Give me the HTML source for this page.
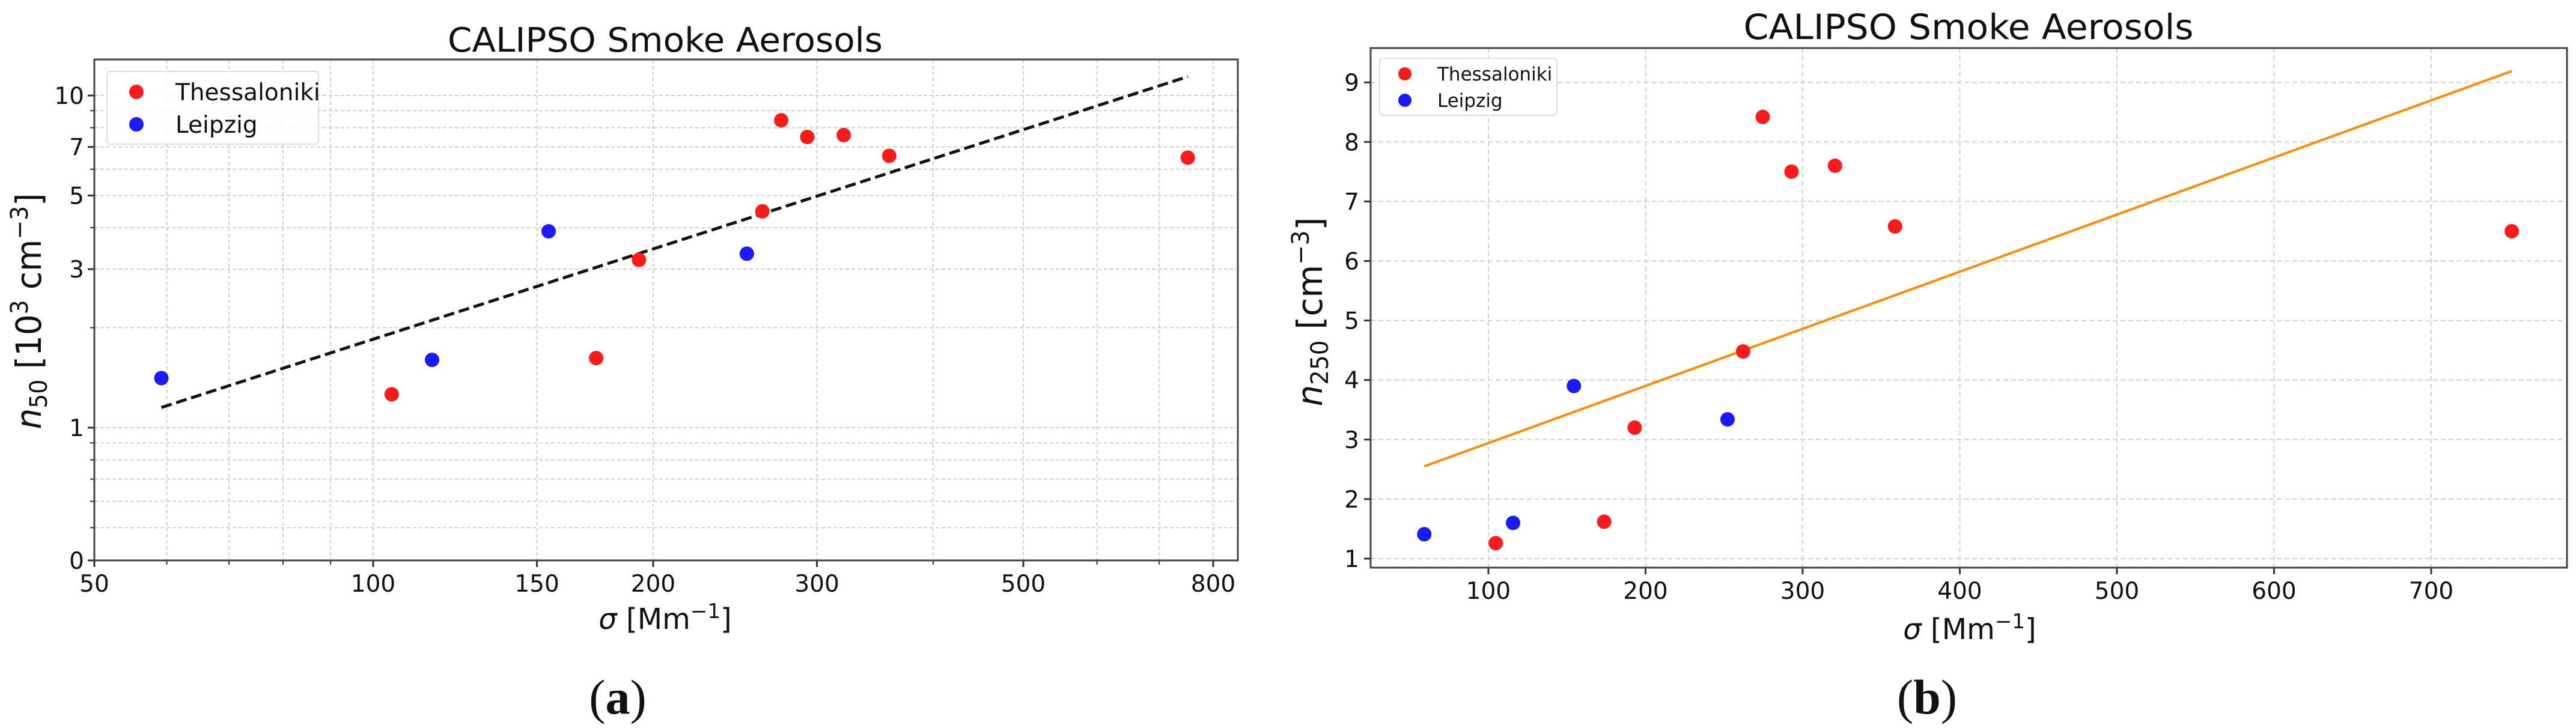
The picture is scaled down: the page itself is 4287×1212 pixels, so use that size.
<!DOCTYPE html>
<html><head><meta charset="utf-8"><style>
html,body{margin:0;padding:0;background:#fff;width:4287px;height:1212px;overflow:hidden}
svg{display:block}
text{font-family:"DejaVu Sans","Liberation Sans",sans-serif;fill:#111}
</style></head><body>
<svg id="fig" width="4287" height="1212" viewBox="0 0 4287 1212" xmlns="http://www.w3.org/2000/svg"></svg>
<script>
// ---- data ----
const sigma = [59.2, 104.7, 115.7, 154.4, 173.7, 193.1, 252.2, 262.1, 274.6, 292.9, 320.6, 358.8, 751.3];
const nval  = [1.41, 1.26, 1.60, 3.90, 1.62, 3.20, 3.34, 4.48, 8.42, 7.50, 7.60, 6.58, 6.50];
const site  = ["L","T","L","L","T","T","L","T","T","T","T","T","T"];
const fitX  = [59.2, 751.3];
const fitA  = [1.15, 11.4];
const fitB  = [2.55, 9.19];
const aXTicks = [50, 100, 150, 200, 300, 500, 800];
const aXMinor = [60, 70, 80, 90, 400, 600, 700];
const aYTicks = [1, 3, 5, 7, 10];
const aYGrid  = [0.5, 0.6, 0.7, 0.8, 0.9, 1, 2, 3, 4, 5, 6, 7, 8, 9, 10];
const bXTicks = [100, 200, 300, 400, 500, 600, 700];
const bYTicks = [1, 2, 3, 4, 5, 6, 7, 8, 9];

const NS = "http://www.w3.org/2000/svg";
const svg = document.getElementById("fig");
function mk(tag, attrs, parent, txt) {
  const e = document.createElementNS(NS, tag);
  for (const k in attrs) e.setAttribute(k, attrs[k]);
  if (txt !== undefined) e.textContent = txt;
  (parent || svg).appendChild(e);
  return e;
}
const RED = "#ff1a1a", BLUE = "#1a1aff";

// ---- panel A (log-log) ----
const A = {l:157, r:2060, t:99, b:933};
const ax = v => 155 + 1548 * Math.log10(v / 50);
const ay = v => 712 - 553 * Math.log10(v);
const gA = mk("g", {});


aXTicks.concat(aXMinor).forEach(v => {
  if (v === 50) return;
  const l = mk("line", {x1: ax(v), x2: ax(v), y1: A.t, y2: A.b, stroke: "#d0d0d0", "stroke-width": 2, "stroke-dasharray": "6,4"}, gA);
  
  
});
aYGrid.forEach(v => {
  const l = mk("line", {x1: A.l, x2: A.r, y1: ay(v), y2: ay(v), stroke: "#d0d0d0", "stroke-width": 2, "stroke-dasharray": "6,4"}, gA);
  
  
});
aXTicks.forEach(v => {
  const x = v === 50 ? A.l : ax(v);
  mk("line", {x1: x, x2: x, y1: A.b, y2: A.b + 11, stroke: "#333", "stroke-width": 3}, gA);
  const t = mk("text", {x: x, y: A.b + 52, "text-anchor": "middle", "font-size": 39}, gA, String(v));
  
  
});
aXMinor.forEach(v => mk("line", {x1: ax(v), x2: ax(v), y1: A.b, y2: A.b + 7, stroke: "#333", "stroke-width": 2}, gA));
aYGrid.forEach(v => mk("line", {x1: A.l - 7, x2: A.l, y1: ay(v), y2: ay(v), stroke: "#333", "stroke-width": 2}, gA));
aYTicks.forEach(v => {
  mk("line", {x1: A.l - 11, x2: A.l, y1: ay(v), y2: ay(v), stroke: "#333", "stroke-width": 3}, gA);
  const t = mk("text", {x: A.l - 17, y: ay(v) + 14, "text-anchor": "end", "font-size": 39}, gA, String(v));
  
  
});
{
  mk("line", {x1: A.l - 11, x2: A.l, y1: A.b, y2: A.b, stroke: "#333", "stroke-width": 3}, gA);
  const t = mk("text", {x: A.l - 17, y: A.b + 14, "text-anchor": "end", "font-size": 39}, gA, "0");
  
  
}
{
  const l = mk("line", {x1: ax(fitX[0]), y1: ay(fitA[0]), x2: ax(fitX[1]), y2: ay(fitA[1]), stroke: "#111", "stroke-width": 5, "stroke-dasharray": "18,8"}, gA);
  
  
}
sigma.forEach((s, i) => {
  const c = mk("circle", {cx: ax(s), cy: ay(nval[i]), r: 12, fill: site[i] === "T" ? RED : BLUE}, gA);
  
  
});
mk("rect", {x: A.l, y: A.t, width: A.r - A.l, height: A.b - A.t, fill: "none", stroke: "#444", "stroke-width": 3}, gA);

// ---- panel B (linear) ----
const B = {l:2281, r:4272, t:80, b:945};
const bx = v => 2477 + (v - 100) * 2.615;
const by = v => 930 - (v - 1) * 99.1;
const gB = mk("g", {});


bXTicks.forEach(v => {
  const l = mk("line", {x1: bx(v), x2: bx(v), y1: B.t, y2: B.b, stroke: "#d0d0d0", "stroke-width": 2, "stroke-dasharray": "8,5"}, gB);
  
  
  mk("line", {x1: bx(v), x2: bx(v), y1: B.b, y2: B.b + 11, stroke: "#333", "stroke-width": 3}, gB);
  const t = mk("text", {x: bx(v), y: B.b + 52, "text-anchor": "middle", "font-size": 39}, gB, String(v));
  
  
});
bYTicks.forEach(v => {
  const l = mk("line", {x1: B.l, x2: B.r, y1: by(v), y2: by(v), stroke: "#d0d0d0", "stroke-width": 2, "stroke-dasharray": "8,5"}, gB);
  
  
  mk("line", {x1: B.l - 11, x2: B.l, y1: by(v), y2: by(v), stroke: "#333", "stroke-width": 3}, gB);
  const t = mk("text", {x: B.l - 19, y: by(v) + 14, "text-anchor": "end", "font-size": 39}, gB, String(v));
  
  
});
{
  const l = mk("line", {x1: bx(fitX[0]), y1: by(fitB[0]), x2: bx(fitX[1]), y2: by(fitB[1]), stroke: "#ff8c00", "stroke-width": 4}, gB);
  
  
}
sigma.forEach((s, i) => {
  const c = mk("circle", {cx: bx(s), cy: by(nval[i]), r: 12, fill: site[i] === "T" ? RED : BLUE}, gB);
  
  
});
mk("rect", {x: B.l, y: B.t, width: B.r - B.l, height: B.b - B.t, fill: "none", stroke: "#444", "stroke-width": 3}, gB);
</script>

<svg width="4287" height="1212" viewBox="0 0 4287 1212" xmlns="http://www.w3.org/2000/svg" style="position:absolute;left:0;top:0">
  <text x="1107" y="86" text-anchor="middle" font-size="56" textLength="724" lengthAdjust="spacingAndGlyphs">CALIPSO Smoke Aerosols</text>
  <text x="1107" y="1047" text-anchor="middle" font-size="48"><tspan font-style="italic">σ</tspan> [Mm<tspan dy="-18" font-size="34">−1</tspan><tspan dy="18">]</tspan></text>
  <text transform="translate(68,518) rotate(-90)" text-anchor="middle" font-size="58" textLength="393" lengthAdjust="spacingAndGlyphs"><tspan font-style="italic">n</tspan><tspan dy="10" font-size="40">50</tspan><tspan dy="-10"> [10</tspan><tspan dy="-22" font-size="40">3</tspan><tspan dy="22"> cm</tspan><tspan dy="-22" font-size="40">−3</tspan><tspan dy="22">]</tspan></text>
  <g>
    <rect x="178" y="119" width="352" height="121" rx="6" fill="#fff" fill-opacity="0.85" stroke="#ddd" stroke-width="2"/>
    <circle cx="227" cy="153" r="12" fill="#ff1a1a"/>
    <text x="292" y="167" font-size="39" fill="#222">Thessaloniki</text>
    <circle cx="227" cy="207" r="12" fill="#1a1aff"/>
    <text x="292" y="221" font-size="39" fill="#222">Leipzig</text>
  </g>
  <text x="1028" y="1188" text-anchor="middle" font-size="82" style="font-family:'Liberation Serif',serif">(<tspan font-weight="bold">a</tspan>)</text>

  <text x="3276" y="65" text-anchor="middle" font-size="58" textLength="749" lengthAdjust="spacingAndGlyphs">CALIPSO Smoke Aerosols</text>
  <text x="3278" y="1064" text-anchor="middle" font-size="48"><tspan font-style="italic">σ</tspan> [Mm<tspan dy="-18" font-size="34">−1</tspan><tspan dy="18">]</tspan></text>
  <text transform="translate(2200,519) rotate(-90)" text-anchor="middle" font-size="58" textLength="315" lengthAdjust="spacingAndGlyphs"><tspan font-style="italic">n</tspan><tspan dy="10" font-size="40">250</tspan><tspan dy="-10"> [cm</tspan><tspan dy="-22" font-size="40">−3</tspan><tspan dy="22">]</tspan></text>
  <g>
    <rect x="2296" y="97" width="295" height="95" rx="6" fill="#fff" fill-opacity="0.85" stroke="#ddd" stroke-width="2"/>
    <circle cx="2338" cy="123" r="11" fill="#ff1a1a"/>
    <text x="2392" y="134" font-size="31" fill="#222">Thessaloniki</text>
    <circle cx="2338" cy="167" r="11" fill="#1a1aff"/>
    <text x="2392" y="178" font-size="31" fill="#222">Leipzig</text>
  </g>
  <text x="3207" y="1188" text-anchor="middle" font-size="82" style="font-family:'Liberation Serif',serif">(<tspan font-weight="bold">b</tspan>)</text>
</svg>
</body></html>
